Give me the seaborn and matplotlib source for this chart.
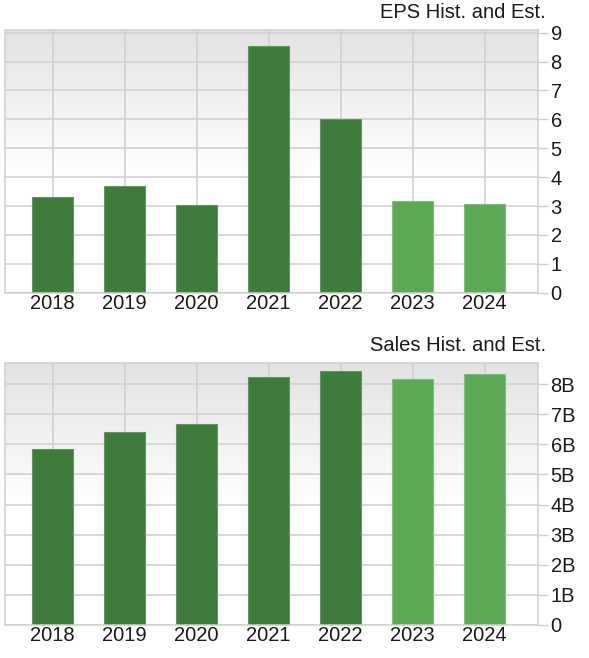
import matplotlib
matplotlib.use("Agg")
import matplotlib.pyplot as plt
import matplotlib.ticker as mticker
import numpy as np
import pandas as pd
import seaborn as sns

years = ["2018", "2019", "2020", "2021", "2022", "2023", "2024"]
kind = ["Hist", "Hist", "Hist", "Hist", "Hist", "Est", "Est"]
eps_values = [3.32, 3.70, 3.02, 8.55, 6.02, 3.16, 3.08]
sales_values = [5.83e9, 6.41e9, 6.69e9, 8.22e9, 8.45e9, 8.16e9, 8.34e9]
eps_ticks = [0, 1, 2, 3, 4, 5, 6, 7, 8, 9]
sales_ticks = [0, 1e9, 2e9, 3e9, 4e9, 5e9, 6e9, 7e9, 8e9]
eps_title = "EPS Hist. and Est."
sales_title = "Sales Hist. and Est."

palette = {"Hist": "#3f7b3a", "Est": "#5ba955"}
edge = {"Hist": "#5f9a5a", "Est": "#7cc078"}

sns.set_theme(style="white")
plt.rcParams["font.family"] = ["Liberation Sans", "DejaVu Sans"]

FS = 14.5
fig = plt.figure(figsize=(5.89, 6.58), dpi=100)
W, H = 589, 658


def make_ax(top_px, bottom_px):
    left, right = 5, 538
    return fig.add_axes([left / W, 1 - bottom_px / H, (right - left) / W, (bottom_px - top_px) / H])


ax1 = make_ax(30, 292.7)
ax2 = make_ax(363, 625)

# vertical background gradient: light gray at top fading to white below the middle
top_gray = np.array([0.89, 0.89, 0.89])
g = np.linspace(1, 0, 256)  # row 0 = top
t = np.clip((g - 0.45) / 0.55, 0, 1)
img = np.zeros((256, 1, 3))
for c in range(3):
    img[:, 0, c] = 1 - (1 - top_gray[c]) * t


def draw(ax, values, ticks, ytop, title, fmt):
    df = pd.DataFrame({"year": years, "value": values, "kind": kind})
    sns.barplot(data=df, x="year", y="value", hue="kind", palette=palette,
                dodge=False, width=0.57, legend=False, ax=ax, zorder=2,
                saturation=1)
    for p in ax.patches:
        cx = p.get_x() + p.get_width() / 2
        i = int(round(cx))
        if 0 <= i < len(kind):
            p.set_edgecolor(edge[kind[i]])
            p.set_linewidth(0.8)
    ax.imshow(img, extent=[0, 1, 0, 1], transform=ax.transAxes,
              aspect="auto", zorder=-1, interpolation="bilinear")
    ax.set_xlim(-0.662, 6.74)
    ax.set_ylim(0, ytop)
    ax.set_yticks(ticks)
    ax.yaxis.set_major_formatter(mticker.FuncFormatter(fmt))
    ax.yaxis.tick_right()
    ax.set_axisbelow(True)
    ax.grid(True, color="#cfcfcf", linewidth=1.1, zorder=0.5)
    ax.tick_params(axis="y", which="major", length=7, width=1, color="#cfcfcf",
                   labelsize=FS, labelcolor="#1a1a1a", pad=2, right=True, left=False)
    ax.tick_params(axis="x", length=0, labelsize=FS, labelcolor="#1a1a1a", pad=1)
    ax.set_xlabel("")
    ax.set_ylabel("")
    for s in ax.spines.values():
        s.set_color("#cfcfcf")
        s.set_linewidth(1.1)
        s.set_visible(True)
    ax.text(1.015, 1.03, title, transform=ax.transAxes, ha="right", va="bottom",
            fontsize=FS, color="#1a1a1a")


draw(ax1, eps_values, eps_ticks, 9.09, eps_title, lambda v, p: f"{v:g}")
draw(ax2, sales_values, sales_ticks, 8.70e9, sales_title,
     lambda v, p: "0" if v == 0 else f"{v / 1e9:g}B")

fig.savefig("out.png", dpi=100)
